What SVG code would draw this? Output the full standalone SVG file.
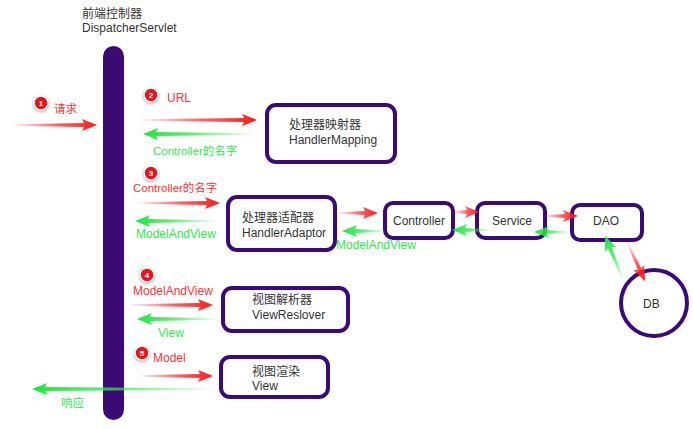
<svg xmlns="http://www.w3.org/2000/svg" width="693" height="429" viewBox="0 0 693 429">
<defs>
<linearGradient id="gr" x1="0" y1="0" x2="1" y2="0">
<stop offset="0" stop-color="#ff2a2a" stop-opacity="0"/>
<stop offset="0.55" stop-color="#ff2a2a" stop-opacity="0.75"/>
<stop offset="1" stop-color="#ff1a1a" stop-opacity="1"/>
</linearGradient>
<linearGradient id="gg" x1="0" y1="0" x2="1" y2="0">
<stop offset="0" stop-color="#2ee84a" stop-opacity="0"/>
<stop offset="0.55" stop-color="#2ee84a" stop-opacity="0.75"/>
<stop offset="1" stop-color="#1ee83c" stop-opacity="1"/>
</linearGradient>
<radialGradient id="sh" cx="0.5" cy="0.5" r="0.5">
<stop offset="0.6" stop-color="#999" stop-opacity="0.7"/>
<stop offset="1" stop-color="#999" stop-opacity="0"/>
</radialGradient>
</defs>
<style>
.box{fill:#fff;stroke:#3a0a7a;stroke-width:4}
.t{font-family:"Liberation Sans","Noto Sans CJK SC",sans-serif;font-size:12px;fill:#333}
.r{font-family:"Liberation Sans","Noto Sans CJK SC",sans-serif;font-size:11.5px;fill:#ff3030}
.g{font-family:"Liberation Sans","Noto Sans CJK SC",sans-serif;font-size:11.5px;fill:#2ee84a}
.ar{fill:url(#gr)}
.ag{fill:url(#gg)}
.bd{fill:#e8141c;stroke:#fff;stroke-width:1.5}
.bn{font-family:"Liberation Sans",sans-serif;font-size:8px;font-weight:bold;fill:#fff;text-anchor:middle}
</style>
<rect width="693" height="429" fill="#fff"/>

<g id="dispatcher">
<text class="t" x="82" y="18">前端控制器</text>
<text class="t" x="82" y="32">DispatcherServlet</text>
<rect x="103" y="46" width="21" height="374" rx="10.5" fill="#3b0b73"/>
</g>

<g id="handlerMapping">
<rect class="box" x="267" y="105" width="128" height="57" rx="9"/>
<text class="t" x="289" y="129">处理器映射器</text>
<text class="t" x="289" y="144">HandlerMapping</text>
</g>

<g id="handlerAdaptor">
<rect class="box" x="228" y="197" width="107" height="53" rx="9"/>
<text class="t" x="242" y="222">处理器适配器</text>
<text class="t" x="242" y="237">HandlerAdaptor</text>
</g>

<g id="controller">
<rect class="box" x="385" y="203" width="68" height="35" rx="8"/>
<text class="t" x="393" y="225">Controller</text>
</g>

<g id="service">
<rect class="box" x="477" y="203" width="68" height="35" rx="8"/>
<text class="t" x="492" y="225">Service</text>
</g>

<g id="dao">
<rect class="box" x="572" y="205" width="70" height="35" rx="8"/>
<text class="t" x="593" y="225">DAO</text>
</g>

<g id="db">
<circle class="box" cx="654" cy="303" r="33"/>
<text class="t" x="643" y="308">DB</text>
</g>

<g id="viewResolver">
<rect class="box" x="223" y="288" width="125" height="43" rx="9"/>
<text class="t" x="252" y="304">视图解析器</text>
<text class="t" x="252" y="319">ViewReslover</text>
</g>

<g id="view">
<rect class="box" x="221" y="357" width="107" height="40" rx="9"/>
<text class="t" x="252" y="376">视图渲染</text>
<text class="t" x="252" y="390">View</text>
</g>

<g id="connectors">
<path class="ar" transform="translate(10,125)" d="M0,-0.8 L74,-2 L72,-6 L87,0 L72,6 L74,2 L0,0.8 Z"/>
<path class="ar" transform="translate(137,120)" d="M0,-0.8 L107,-2 L105,-6 L120,0 L105,6 L107,2 L0,0.8 Z"/>
<path class="ag" transform="translate(257,134) rotate(180)" d="M0,-0.8 L101,-2 L99,-6 L114,0 L99,6 L101,2 L0,0.8 Z"/>
<path class="ar" transform="translate(135,203)" d="M0,-0.8 L72,-2 L70,-6 L85,0 L70,6 L72,2 L0,0.8 Z"/>
<path class="ag" transform="translate(217,221) rotate(180)" d="M0,-0.8 L69,-2 L67,-6 L82,0 L67,6 L69,2 L0,0.8 Z"/>
<path class="ar" transform="translate(338,213)" d="M0,-0.8 L27,-2 L25,-6 L40,0 L25,6 L27,2 L0,0.8 Z"/>
<path class="ag" transform="translate(387,231) rotate(180)" d="M0,-0.8 L32,-2 L30,-6 L45,0 L30,6 L32,2 L0,0.8 Z"/>
<path class="ar" transform="translate(453,212)" d="M0,-0.8 L14,-2 L12,-6 L26,0 L12,6 L14,2 L0,0.8 Z"/>
<path class="ag" transform="translate(492,230) rotate(180)" d="M0,-0.8 L27,-2 L25,-6 L40,0 L25,6 L27,2 L0,0.8 Z"/>
<path class="ar" transform="translate(543,216)" d="M0,-0.8 L22,-2 L20,-6 L35,0 L20,6 L22,2 L0,0.8 Z"/>
<path class="ag" transform="translate(570,232) rotate(180)" d="M0,-0.8 L23,-2 L21,-6 L36,0 L21,6 L23,2 L0,0.8 Z"/>
<path class="ar" transform="translate(627,242) rotate(65.2)" d="M0,-0.8 L30,-2 L28,-6 L43,0 L28,6 L30,2 L0,0.8 Z"/>
<path class="ag" transform="translate(624,282) rotate(-112.4)" d="M0,-0.8 L37,-2 L35,-6 L50,0 L35,6 L37,2 L0,0.8 Z"/>
<path class="ar" transform="translate(127,305)" d="M0,-0.8 L73,-2 L71,-6 L86,0 L71,6 L73,2 L0,0.8 Z"/>
<path class="ag" transform="translate(220,319) rotate(180)" d="M0,-0.8 L70,-2 L68,-6 L83,0 L68,6 L70,2 L0,0.8 Z"/>
<path class="ar" transform="translate(137,376)" d="M0,-0.8 L63,-2 L61,-6 L76,0 L61,6 L63,2 L0,0.8 Z"/>
<path class="ag" transform="translate(217,389) rotate(180)" d="M0,-0.8 L172,-2 L170,-6 L185,0 L170,6 L172,2 L0,0.8 Z"/>
</g>

<g id="labels">
<circle cx="41" cy="104" r="10" fill="url(#sh)"/>
<circle class="bd" cx="41" cy="103" r="7"/>
<text class="bn" x="41" y="106">1</text>
<text class="r" x="54" y="113">请求</text>

<circle cx="151" cy="96" r="10" fill="url(#sh)"/>
<circle class="bd" cx="151" cy="95" r="7"/>
<text class="bn" x="151" y="98">2</text>
<text class="r" x="167" y="102" style="font-size:12px">URL</text>
<text class="g" x="153" y="155">Controller的名字</text>

<circle cx="151" cy="174" r="10" fill="url(#sh)"/>
<circle class="bd" cx="151" cy="173" r="7"/>
<text class="bn" x="151" y="176">3</text>
<text class="r" x="133" y="192">Controller的名字</text>
<text class="g" x="136" y="238" style="font-size:12px">ModelAndView</text>
<text class="g" x="336" y="249" style="font-size:12px">ModelAndView</text>

<circle cx="147" cy="276" r="10" fill="url(#sh)"/>
<circle class="bd" cx="147" cy="275" r="7"/>
<text class="bn" x="147" y="278">4</text>
<text class="r" x="133" y="295" style="font-size:12px">ModelAndView</text>
<text class="g" x="158" y="337" style="font-size:12px">View</text>

<circle cx="142" cy="354" r="10" fill="url(#sh)"/>
<circle class="bd" cx="142" cy="353" r="7"/>
<text class="bn" x="142" y="356">5</text>
<text class="r" x="153" y="362" style="font-size:12px">Model</text>
<text class="g" x="61" y="407">响应</text>
</g>
</svg>
